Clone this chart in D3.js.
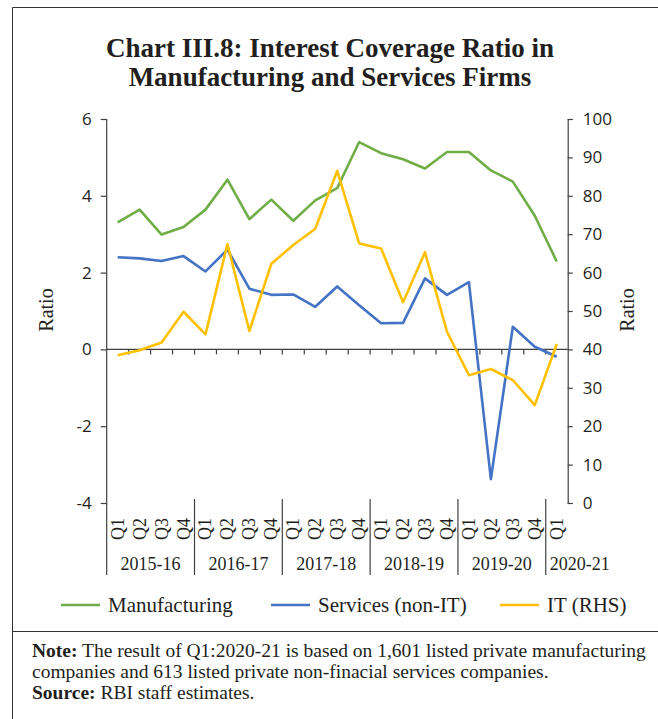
<!DOCTYPE html>
<html>
<head>
<meta charset="utf-8">
<script src="https://cdn.jsdelivr.net/npm/d3@7"></script>
<style>
  html, body { margin: 0; padding: 0; background: #fff; }
  svg { display: block; }
</style>
</head>
<body>
<svg id="chart" width="658" height="719"></svg>
<script>
// ---- data ----
const years = ["2015-16", "2016-17", "2017-18", "2018-19", "2019-20", "2020-21"];
const quartersPerYear = [4, 4, 4, 4, 4, 1];
const quarterNames = ["Q1", "Q2", "Q3", "Q4"];
const manufacturing = [3.31, 3.64, 2.99, 3.19, 3.64, 4.42, 3.39, 3.90, 3.35, 3.88, 4.20, 5.40, 5.11, 4.95, 4.71, 5.14, 5.14, 4.66, 4.37, 3.48, 2.29];
const servicesNonIT = [2.40, 2.37, 2.30, 2.43, 2.03, 2.60, 1.58, 1.42, 1.43, 1.11, 1.64, 1.15, 0.68, 0.69, 1.85, 1.42, 1.75, -3.38, 0.59, 0.07, -0.19];
const itRHS = [38.5, 39.8, 41.8, 49.8, 43.9, 67.4, 44.8, 62.3, 67.2, 71.4, 86.5, 67.6, 66.3, 52.3, 65.3, 44.6, 33.3, 34.9, 32.0, 25.5, 41.4];
const leftTicks = [-4, -2, 0, 2, 4, 6];
const rightTicks = [0, 10, 20, 30, 40, 50, 60, 70, 80, 90, 100];
const seriesNames = ["Manufacturing", "Services (non-IT)", "IT (RHS)"];
const seriesColors = ["#70AD47", "#4472C4", "#FFC000"];
const titleLines = ["Chart III.8: Interest Coverage Ratio in", "Manufacturing and Services Firms"];

// build category list
const cats = [];
years.forEach((y, yi) => {
  for (let q = 0; q < quartersPerYear[yi]; q++) cats.push({ year: y, q: quarterNames[q], key: y + " " + quarterNames[q] });
});

const svg = d3.select("#chart");
const textColor = "#231f20";
const axisColor = "#404040";
const serif = "'Liberation Serif', 'Times New Roman', serif";
const sans = "'Open Sans', 'DejaVu Sans', sans-serif";
const plainFmt = d => String(d);

// layout
const plotLeft = 106.7, plotRight = 567.7, plotTop = 119, plotBottom = 503;

const x = d3.scaleBand().domain(cats.map(c => c.key)).range([plotLeft, plotRight]).padding(0);
const yL = d3.scaleLinear().domain([-4, 6]).range([plotBottom, plotTop]);
const yR = d3.scaleLinear().domain([0, 100]).range([plotBottom, plotTop]);

// frame
svg.append("path")
  .attr("d", `M658,7.5 H12.5 V719`)
  .attr("fill", "none").attr("stroke", "#333").attr("stroke-width", 1);
svg.append("line").attr("x1", 12.5).attr("x2", 658).attr("y1", 631.5).attr("y2", 631.5)
  .attr("stroke", "#333").attr("stroke-width", 1);

// title
svg.append("g").selectAll("text").data(titleLines).join("text")
  .attr("x", 330).attr("y", (d, i) => 57 + i * 29)
  .attr("text-anchor", "middle")
  .attr("font-family", serif).attr("font-weight", "bold").attr("font-size", 27)
  .attr("fill", textColor).text(d => d);

// left axis
const gL = svg.append("g").attr("transform", `translate(${plotLeft},0)`)
  .call(d3.axisLeft(yL).tickValues(leftTicks).tickSize(6).tickPadding(9).tickFormat(plainFmt));
gL.select(".domain").remove();
gL.selectAll(".tick line").attr("stroke", axisColor).attr("stroke-width", 1.2);
gL.selectAll(".tick text").attr("font-family", sans).attr("font-size", 17).attr("fill", textColor);
svg.append("line").attr("x1", plotLeft).attr("x2", plotLeft).attr("y1", plotTop).attr("y2", 575)
  .attr("stroke", axisColor).attr("stroke-width", 1.2);

// right axis
const gR = svg.append("g").attr("transform", `translate(${plotRight},0)`)
  .call(d3.axisRight(yR).tickValues(rightTicks).tickSize(5).tickPadding(10).tickFormat(plainFmt));
gR.select(".domain").attr("stroke", axisColor).attr("stroke-width", 1.2);
gR.selectAll(".tick line").attr("stroke", axisColor).attr("stroke-width", 1.2);
gR.selectAll(".tick text").attr("font-family", sans).attr("font-size", 17).attr("fill", textColor);

// axis titles
svg.append("text").attr("transform", `translate(53,310) rotate(-90)`)
  .attr("text-anchor", "middle").attr("font-family", serif).attr("font-size", 20)
  .attr("fill", textColor).text("Ratio");
svg.append("text").attr("transform", `translate(634,310) rotate(-90)`)
  .attr("text-anchor", "middle").attr("font-family", serif).attr("font-size", 20)
  .attr("fill", textColor).text("Ratio");

// zero line with category ticks
const y0 = yL(0);
svg.append("line").attr("x1", plotLeft).attr("x2", plotRight).attr("y1", y0).attr("y2", y0)
  .attr("stroke", axisColor).attr("stroke-width", 1.2);
svg.append("g").selectAll("line").data(cats.slice(1)).join("line")
  .attr("x1", d => x(d.key)).attr("x2", d => x(d.key))
  .attr("y1", y0).attr("y2", y0 + 5)
  .attr("stroke", axisColor).attr("stroke-width", 1.2);

// quarter labels (rotated)
svg.append("g").selectAll("text").data(cats).join("text")
  .attr("transform", d => `translate(${x(d.key) + x.bandwidth() / 2 + 6},529) rotate(-90)`)
  .attr("text-anchor", "middle")
  .attr("font-family", serif).attr("font-size", 18).attr("fill", textColor)
  .text(d => d.q);

// year separators and labels
let start = 0;
const groups = years.map((y, i) => {
  const g = { year: y, first: cats[start].key, last: cats[start + quartersPerYear[i] - 1].key };
  start += quartersPerYear[i];
  return g;
});
svg.append("g").selectAll("line").data(groups.slice(1)).join("line")
  .attr("x1", d => x(d.first)).attr("x2", d => x(d.first))
  .attr("y1", 499).attr("y2", 575)
  .attr("stroke", axisColor).attr("stroke-width", 1.2);
svg.append("g").selectAll("text").data(groups).join("text")
  .attr("x", (d, i) => i === groups.length - 1 ? x(d.first) + 4 : (x(d.first) + x(d.last) + x.bandwidth()) / 2)
  .attr("y", 570)
  .attr("text-anchor", (d, i) => i === groups.length - 1 ? "start" : "middle")
  .attr("font-family", serif).attr("font-size", 18).attr("fill", textColor)
  .text(d => d.year);

// lines
const cx = i => x(cats[i].key) + x.bandwidth() / 2;
const lineL = d3.line().x((d, i) => cx(i)).y(d => yL(d));
const lineR = d3.line().x((d, i) => cx(i)).y(d => yR(d));
const plotData = [
  { values: manufacturing, gen: lineL, color: seriesColors[0] },
  { values: servicesNonIT, gen: lineL, color: seriesColors[1] },
  { values: itRHS, gen: lineR, color: seriesColors[2] }
];
svg.append("g").selectAll("path").data(plotData).join("path")
  .attr("d", d => d.gen(d.values))
  .attr("fill", "none").attr("stroke", d => d.color)
  .attr("stroke-width", 2.6).attr("stroke-linejoin", "round").attr("stroke-linecap", "butt");

// legend
const legendX = [61, 271, 500];
const leg = svg.append("g").selectAll("g").data(seriesNames).join("g")
  .attr("transform", (d, i) => `translate(${legendX[i]},605)`);
leg.append("line").attr("x1", 0).attr("x2", 39).attr("y1", 0).attr("y2", 0)
  .attr("stroke", (d, i) => seriesColors[i]).attr("stroke-width", 2.6);
leg.append("text").attr("x", 47).attr("y", 7)
  .attr("font-family", serif).attr("font-size", 21).attr("fill", textColor)
  .text(d => d);

// note and source
const note = svg.append("g").attr("font-family", serif).attr("font-size", 19.5).attr("fill", textColor);
const t1 = note.append("text").attr("x", 32).attr("y", 657);
t1.append("tspan").attr("font-weight", "bold").text("Note:");
t1.append("tspan").text(" The result of Q1:2020-21 is based on 1,601 listed private manufacturing");
note.append("text").attr("x", 32).attr("y", 678)
  .text("companies and 613 listed private non-finacial services companies.");
const t3 = note.append("text").attr("x", 32).attr("y", 699);
t3.append("tspan").attr("font-weight", "bold").text("Source:");
t3.append("tspan").text(" RBI staff estimates.");
</script>
</body>
</html>
